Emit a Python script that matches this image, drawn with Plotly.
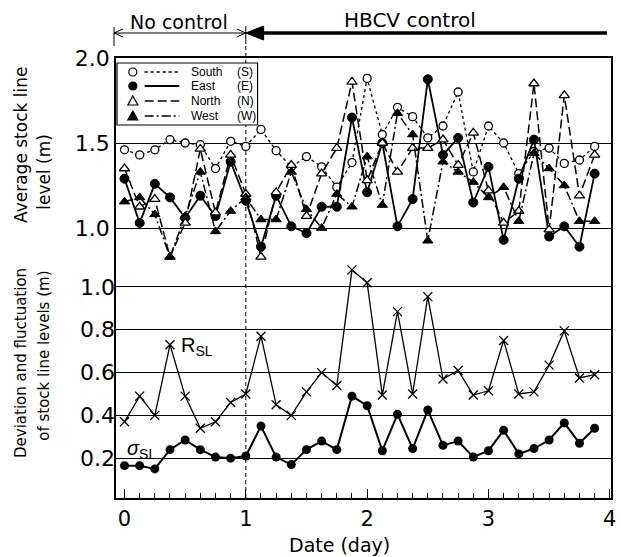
import plotly.graph_objects as go

days = [0.000, 0.125, 0.250, 0.375, 0.500, 0.625, 0.750, 0.875,
        1.000, 1.125, 1.250, 1.375, 1.500, 1.625, 1.750, 1.875,
        2.000, 2.125, 2.250, 2.375, 2.500, 2.625, 2.750, 2.875,
        3.000, 3.125, 3.250, 3.375, 3.500, 3.625, 3.750, 3.875]

south = [1.46, 1.43, 1.46, 1.52, 1.50, 1.49, 1.35, 1.51, 1.48, 1.58, 1.455, 1.36, 1.42, 1.36, 1.24, 1.385,
         1.88, 1.55, 1.71, 1.655, 1.53, 1.60, 1.80, 1.33, 1.60, 1.50, 1.32, 1.45, 1.47, 1.38, 1.40, 1.48]
east = [1.29, 1.03, 1.26, 1.18, 1.06, 1.19, 1.07, 1.39, 1.16, 0.89, 1.19, 1.01, 0.97, 1.125, 1.125, 1.65,
        1.21, 1.50, 1.01, 1.17, 1.875, 1.43, 1.53, 1.15, 1.36, 0.93, 1.29, 1.52, 0.95, 1.01, 0.89, 1.32]
north = [1.35, 1.125, 1.17, 0.83, 1.03, 1.465, 1.09, 1.43, 1.20, 0.83, 1.21, 1.37, 1.07, 1.32, 1.47, 1.86,
         1.28, 1.50, 1.33, 1.47, 1.47, 1.52, 1.37, 1.56, 1.22, 1.03, 1.10, 1.85, 0.99, 1.78, 1.19, 1.43]
west = [1.155, 1.18, 1.08, 0.83, 1.07, 1.33, 0.98, 1.10, 1.18, 1.05, 1.05, 1.33, 1.11, 1.00, 1.20, 1.125,
        1.42, 1.135, 1.675, 1.55, 0.925, 1.39, 1.33, 1.27, 1.18, 1.24, 1.04, 1.44, 1.35, 1.25, 1.04, 1.04]
r_sl = [0.37, 0.49, 0.40, 0.73, 0.49, 0.34, 0.37, 0.46, 0.50, 0.77, 0.45, 0.40, 0.51, 0.60, 0.54, 1.08,
        1.02, 0.495, 0.885, 0.50, 0.955, 0.57, 0.61, 0.495, 0.515, 0.75, 0.50, 0.51, 0.635, 0.795, 0.575, 0.59]
sigma_sl = [0.165, 0.165, 0.15, 0.24, 0.285, 0.24, 0.205, 0.20, 0.21, 0.35, 0.205, 0.17, 0.24, 0.28, 0.24, 0.49,
            0.445, 0.235, 0.405, 0.245, 0.425, 0.26, 0.28, 0.205, 0.235, 0.33, 0.22, 0.245, 0.285, 0.365, 0.27, 0.34]

top_ticks = [1.0, 1.5, 2.0]
bottom_ticks = [0.2, 0.4, 0.6, 0.8, 1.0]
x_ticks = [0, 1, 2, 3, 4]
legend_names = ["South", "East", "North", "West"]
legend_codes = ["(S)", "(E)", "(N)", "(W)"]

W, H = 621, 557
ML, MR, MT, MB = 116, 5, 58, 59
PW, PH = W - ML - MR, H - MT - MB
XR = [-0.07, 4.01]
FONT = "DejaVu Sans"
BLK = "black"


def px(x):
    return (x - ML) / PW


def py(y):
    return (H - MB - y) / PH


def xd(v):
    return (v - XR[0]) / (XR[1] - XR[0])


fig = go.Figure()

styles = [
    (south, "South", dict(symbol="circle", size=8, color="white", line=dict(color=BLK, width=1.3)), dict(color=BLK, width=1.3, dash="3px,3px")),
    (east, "East", dict(symbol="circle", size=9, color=BLK, line=dict(color=BLK, width=1)), dict(color=BLK, width=1.8)),
    (north, "North", dict(symbol="triangle-up", size=9, color="white", line=dict(color=BLK, width=1.3)), dict(color=BLK, width=1.5, dash="9px,4px")),
    (west, "West", dict(symbol="triangle-up", size=9, color=BLK, line=dict(color=BLK, width=1)), dict(color=BLK, width=1.5, dash="9px,3px,2px,3px")),
]
for vals, name, mk, ln in styles:
    fig.add_trace(go.Scatter(x=days, y=vals, mode="lines+markers", name=name,
                             marker=mk, line=ln, yaxis="y", showlegend=False, cliponaxis=False))

fig.add_trace(go.Scatter(x=days, y=r_sl, mode="lines+markers", name="R_SL",
                         marker=dict(symbol="x-thin", size=9, line=dict(color=BLK, width=1.3), color=BLK),
                         line=dict(color=BLK, width=1.3), yaxis="y2", showlegend=False))
fig.add_trace(go.Scatter(x=days, y=sigma_sl, mode="lines+markers", name="sigma_SL",
                         marker=dict(symbol="circle", size=9, color=BLK),
                         line=dict(color=BLK, width=2), yaxis="y2", showlegend=False))

shapes = []
# vertical divider at day 1
x1p = xd(1)
shapes.append(dict(type="line", xref="paper", yref="paper", x0=x1p, x1=x1p, y0=0, y1=py(44),
                   line=dict(color=BLK, width=1, dash="4px,3px"), layer="below"))
shapes.append(dict(type="line", xref="paper", yref="paper", x0=x1p, x1=x1p, y0=py(44), y1=py(26),
                   line=dict(color=BLK, width=1)))
# left header bar
shapes.append(dict(type="line", xref="paper", yref="paper", x0=px(114), x1=px(114), y0=py(46), y1=py(27),
                   line=dict(color=BLK, width=1)))
# thin double arrow "No control"
ya = py(33)
shapes.append(dict(type="line", xref="paper", yref="paper", x0=px(114), x1=x1p, y0=ya, y1=ya,
                   line=dict(color=BLK, width=1)))
shapes.append(dict(type="path", xref="paper", yref="paper",
                   path=f"M {px(123)},{py(29)} L {px(114)},{ya} L {px(123)},{py(37)}",
                   line=dict(color=BLK, width=1)))
shapes.append(dict(type="path", xref="paper", yref="paper",
                   path=f"M {x1p - 9/PW},{py(29)} L {x1p},{ya} L {x1p - 9/PW},{py(37)}",
                   line=dict(color=BLK, width=1)))
# thick arrow "HBCV control"
shapes.append(dict(type="line", xref="paper", yref="paper", x0=x1p + 14/PW, x1=px(612), y0=ya, y1=ya,
                   line=dict(color=BLK, width=3.5)))
shapes.append(dict(type="path", xref="paper", yref="paper",
                   path=f"M {x1p},{ya} L {x1p + 18/PW},{py(26)} L {x1p + 18/PW},{py(40)} Z",
                   fillcolor=BLK, line=dict(color=BLK, width=1)))

# custom legend box
shapes.append(dict(type="rect", xref="paper", yref="paper", x0=px(117), x1=px(259), y0=py(125), y1=py(63),
                   fillcolor="white", line=dict(color=BLK, width=1.2)))
leg_y = [72, 86, 101, 116]
for i, (vals, name, mk, ln) in enumerate(styles):
    yy = py(leg_y[i])
    shapes.append(dict(type="line", xref="paper", yref="paper", x0=px(145), x1=px(180), y0=yy, y1=yy,
                       line=dict(color=BLK, width=ln["width"], dash=ln.get("dash", "solid"))))
    fill = mk["color"]
    if mk["symbol"] == "circle":
        shapes.append(dict(type="circle", xref="paper", yref="paper", xsizemode="pixel", ysizemode="pixel",
                           xanchor=px(133), yanchor=yy, x0=-4, x1=4, y0=-4, y1=4,
                           fillcolor=fill, line=dict(color=BLK, width=1.2)))
    else:
        shapes.append(dict(type="path", xref="paper", yref="paper", xsizemode="pixel", ysizemode="pixel",
                           xanchor=px(133), yanchor=yy, path="M -5,-4 L 5,-4 L 0,5 Z",
                           fillcolor=fill, line=dict(color=BLK, width=1.2)))

annotations = []
for i, name in enumerate(legend_names):
    yy = py(leg_y[i])
    annotations.append(dict(text=name, xref="paper", yref="paper", x=px(190), y=yy, xanchor="left",
                            yanchor="middle", showarrow=False, font=dict(family="Liberation Sans", size=12, color=BLK)))
    annotations.append(dict(text=legend_codes[i], xref="paper", yref="paper", x=px(236), y=yy, xanchor="left",
                            yanchor="middle", showarrow=False, font=dict(family="Liberation Sans", size=12, color=BLK)))

annotations += [
    dict(text="No control", xref="paper", yref="paper", x=px(180), y=py(22), xanchor="center", yanchor="middle",
         showarrow=False, font=dict(family=FONT, size=19, color=BLK)),
    dict(text="HBCV control", xref="paper", yref="paper", x=px(413), y=py(20), xanchor="center", yanchor="middle",
         showarrow=False, font=dict(family=FONT, size=20, color=BLK)),
    dict(text="Average stock line", xref="paper", yref="paper", x=px(20), y=py(145), textangle=-90,
         xanchor="center", yanchor="middle", showarrow=False, font=dict(family=FONT, size=17, color=BLK)),
    dict(text="level (m)", xref="paper", yref="paper", x=px(43), y=py(172), textangle=-90,
         xanchor="center", yanchor="middle", showarrow=False, font=dict(family=FONT, size=17, color=BLK)),
    dict(text="Deviation and fluctuation", xref="paper", yref="paper", x=px(20), y=py(363), textangle=-90,
         xanchor="center", yanchor="middle", showarrow=False, font=dict(family=FONT, size=15, color=BLK)),
    dict(text="of stock line levels (m)", xref="paper", yref="paper", x=px(43), y=py(356), textangle=-90,
         xanchor="center", yanchor="middle", showarrow=False, font=dict(family=FONT, size=15, color=BLK)),
    dict(text="Date (day)", xref="paper", yref="paper", x=px(342), y=py(545), xanchor="center", yanchor="middle",
         showarrow=False, font=dict(family=FONT, size=19, color=BLK)),
    dict(text="R<sub>SL</sub>", xref="paper", yref="paper", x=px(180), y=py(347), xanchor="left", yanchor="middle",
         showarrow=False, font=dict(family="Liberation Sans", size=20, color=BLK)),
    dict(text="<i>σ</i><sub>SL</sub>", xref="paper", yref="paper", x=px(125), y=py(449), xanchor="left", yanchor="middle",
         showarrow=False, font=dict(family="Liberation Sans", size=20, color=BLK)),
]

fig.update_layout(
    width=W, height=H, margin=dict(l=ML, r=MR, t=MT, b=MB, pad=0),
    paper_bgcolor="white", plot_bgcolor="white",
    font=dict(family=FONT, color=BLK),
    showlegend=False,
    shapes=shapes, annotations=annotations,
    xaxis=dict(range=XR, tickvals=x_ticks, ticktext=[str(v) for v in x_ticks],
               ticks="inside", ticklen=9, tickwidth=1.2, tickcolor=BLK,
               minor=dict(ticks="inside", ticklen=5, dtick=0.125, tick0=0, tickcolor=BLK, tickwidth=1, showgrid=False),
               showline=True, linecolor=BLK, linewidth=1.5, mirror=True, showgrid=False, zeroline=False,
               tickfont=dict(family=FONT, size=21, color=BLK), ticklabelstandoff=1),
    yaxis=dict(range=[-0.588, 2.0], tickvals=top_ticks, ticktext=[f"{v:.1f}" for v in top_ticks],
               showgrid=True, gridcolor=BLK, gridwidth=1.2, zeroline=False, ticks="",
               showline=True, linecolor=BLK, linewidth=1.5, mirror=True,
               tickfont=dict(family=FONT, size=22, color=BLK)),
    yaxis2=dict(range=[0.014, 2.07], tickvals=bottom_ticks, ticktext=[f"{v:.1f}" for v in bottom_ticks],
                overlaying="y", side="left", showgrid=True, gridcolor=BLK, gridwidth=1.2, zeroline=False,
                ticks="", showline=False, tickfont=dict(family=FONT, size=22, color=BLK)),
)

fig.write_html("out.html")
